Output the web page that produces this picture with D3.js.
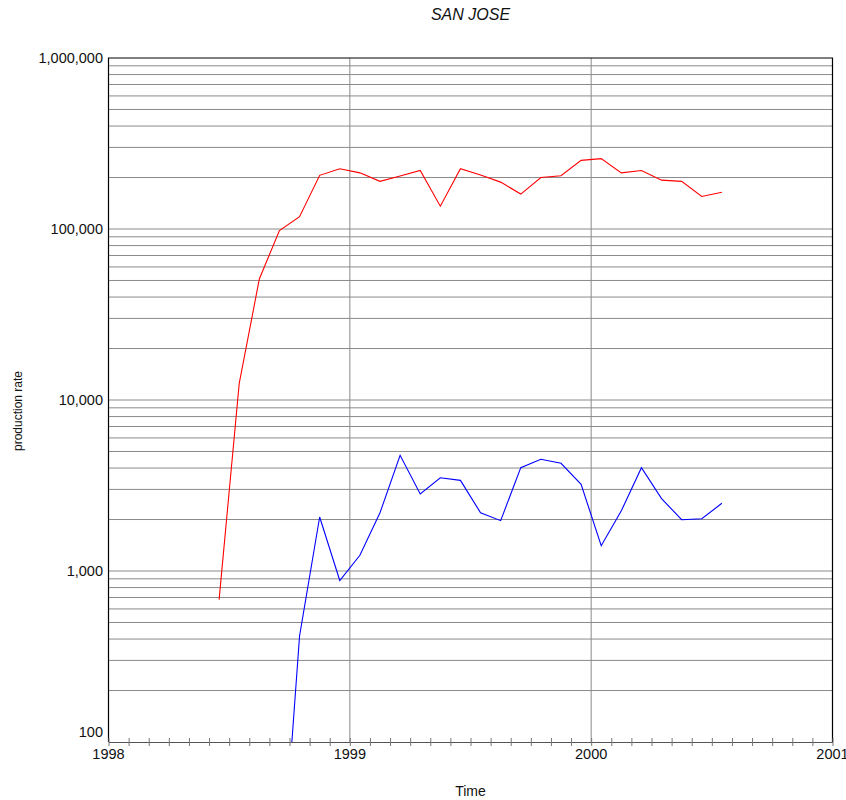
<!DOCTYPE html>
<html><head><meta charset="utf-8">
<script src="https://cdn.jsdelivr.net/npm/d3@7"></script>
<style>body{margin:0;background:#fff}svg{display:block;font-family:"Liberation Sans",Arial,sans-serif}</style>
</head><body><svg id="c" width="846" height="800"></svg>
<script>
const title = "SAN JOSE";
const xLabel = "Time";
const yLabel = "production rate";
const redMonths = ["1998-06","1998-07","1998-08","1998-09","1998-10","1998-11","1998-12",
  "1999-01","1999-02","1999-03","1999-04","1999-05","1999-06","1999-07","1999-08","1999-09","1999-10","1999-11","1999-12",
  "2000-01","2000-02","2000-03","2000-04","2000-05","2000-06","2000-07"];
const redValues = [680,12500,51000,98000,118000,206000,225000,
  213000,190000,204000,220000,136000,225000,207000,188000,160000,200000,205000,252000,
  258000,213000,220000,193000,190000,155000,164000];
const blueMonths = ["1998-09","1998-10","1998-11","1998-12",
  "1999-01","1999-02","1999-03","1999-04","1999-05","1999-06","1999-07","1999-08","1999-09","1999-10","1999-11","1999-12",
  "2000-01","2000-02","2000-03","2000-04","2000-05","2000-06","2000-07"];
const blueValues = [10,417,2070,880,
  1235,2190,4750,2820,3510,3390,2190,1970,4020,4500,4265,3210,
  1405,2250,4020,2650,1995,2020,2490];
const yTickValues = [100,1000,10000,100000,1000000];
const xTickYears = [1998,1999,2000,2001];

const L = 108.5, R = 832.5, T = 58, B = 742;
const svg = d3.select("#c");
// month "YYYY-MM" -> decimal year at mid-month
const toYear = m => { const [yy, mm] = m.split("-").map(Number); return yy + (mm - 0.5) / 12; };

const x = d3.scaleLinear().domain([1998, 2001]).range([L, R]);
const y = d3.scaleLog().domain([100, 1000000]).range([B, T]);

// horizontal gridlines: 1..9 x each decade
const grid = [];
for (let d = 100; d < 1000000; d *= 10) for (let k = 1; k <= 9; k++) if (k*d > 100) grid.push(k*d);
svg.append("g").selectAll("line").data(grid).join("line")
  .attr("x1", L).attr("x2", R).attr("y1", d => y(d)).attr("y2", d => y(d))
  .attr("stroke", "#8a8a8a").attr("stroke-width", 1);

// vertical gridlines at interior years
svg.append("g").selectAll("line").data(xTickYears.slice(1, -1)).join("line")
  .attr("x1", d => x(d)).attr("x2", d => x(d))
  .attr("y1", T).attr("y2", B)
  .attr("stroke", "#8a8a8a").attr("stroke-width", 1);

// series
svg.append("clipPath").attr("id", "clp").append("rect")
  .attr("x", L).attr("y", T).attr("width", R - L).attr("height", B - T);
const line = d3.line().x(d => x(d[0])).y(d => y(d[1]));
const redData = redMonths.map((m, i) => [toYear(m), redValues[i]]);
const blueData = blueMonths.map((m, i) => [toYear(m), blueValues[i]]);
const gS = svg.append("g").attr("clip-path", "url(#clp)");
gS.append("path").datum(redData).attr("d", line).attr("fill", "none").attr("stroke", "#ff0000").attr("stroke-width", 1.1);
gS.append("path").datum(blueData).attr("d", line).attr("fill", "none").attr("stroke", "#0000ff").attr("stroke-width", 1.1);

// frame
svg.append("path").attr("d", `M${L},${B}V${T}H${R}V${B}`).attr("fill", "none").attr("stroke", "#000").attr("stroke-width", 1.2);

// x axis with monthly ticks
const monthTicks = d3.range(0, 37).map(i => 1998 + i / 12);
const xAxis = d3.axisBottom(x).tickValues(monthTicks).tickSize(0).tickFormat("");
const gx = svg.append("g").attr("transform", `translate(0,${B})`).call(xAxis);
gx.select(".domain").attr("stroke", "#555").attr("stroke-width", 1.2);
gx.selectAll(".tick line").remove();
gx.selectAll(".tick").append("line").attr("y1", -4).attr("y2", 4).attr("stroke", "#777");
svg.append("g").selectAll("text").data(xTickYears).join("text")
  .attr("x", d => x(d)).attr("y", 759)
  .attr("text-anchor", "middle").attr("font-size", 14.5).attr("fill", "#111").text(d => d);

// y axis labels
const fmt = d3.format(",");
svg.append("g").selectAll("text").data(yTickValues).join("text")
  .attr("x", 103).attr("y", d => d === 100 ? y(d) - 10 : y(d))
  .attr("dy", "0.35em").attr("text-anchor", "end").attr("font-size", 14.5).attr("fill", "#111")
  .text(d => fmt(d));

// titles
svg.append("text").attr("x", (L + R) / 2).attr("y", 20).attr("text-anchor", "middle")
  .attr("font-size", 16).attr("font-style", "italic").attr("fill", "#111").text(title);
svg.append("text").attr("x", (L + R) / 2).attr("y", 796).attr("text-anchor", "middle")
  .attr("font-size", 14).attr("fill", "#111").text(xLabel);
svg.append("text").attr("transform", "translate(22,411) rotate(-90)").attr("text-anchor", "middle")
  .attr("font-size", 12).attr("fill", "#111").text(yLabel);
</script></body></html>
